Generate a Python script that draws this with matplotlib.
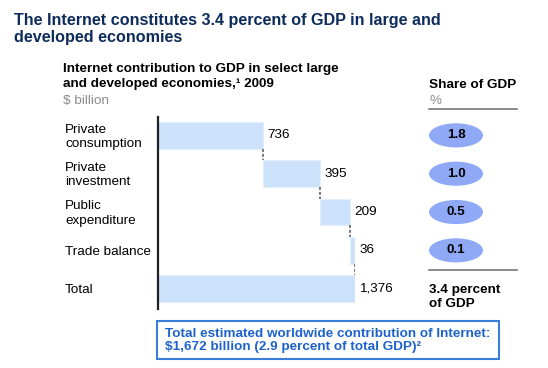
import numpy as np
import matplotlib.pyplot as plt
from matplotlib.patches import Ellipse, Rectangle
from matplotlib.lines import Line2D
from matplotlib.transforms import blended_transform_factory

plt.rcParams['font.family'] = ['Liberation Sans', 'DejaVu Sans']

categories = ['Private\nconsumption', 'Private\ninvestment', 'Public\nexpenditure',
              'Trade balance', 'Total']
values = [736, 395, 209, 36]
total = 1376
value_labels = ['736', '395', '209', '36', '1,376']
shares = ['1.8', '1.0', '0.5', '0.1']

W, H = 548, 368
fig = plt.figure(figsize=(W / 100, H / 100), dpi=100)
FS = 9.7


def fx(x):
    return x / W


def fy(y):
    return 1 - y / H


# waterfall axes
ax = fig.add_axes([fx(158), fy(309), 197 / W, 192 / H])
pos = np.arange(len(categories))
widths = values + [total]
lefts = np.concatenate([[0], np.cumsum(values)[:-1], [0]])
ax.barh(pos, widths, left=lefts, height=0.7, color='#CCE2FB',
        edgecolor='#E2EEFC', linewidth=0.8)

# dashed connectors between steps
for i in range(len(values)):
    x = lefts[i] + widths[i]
    ax.plot([x, x], [i + 0.35, i + 0.65], color='#777777', lw=1.4,
            ls=(0, (1.5, 1)), solid_capstyle='butt')

for i, lab in enumerate(value_labels):
    ax.annotate(lab, (lefts[i] + widths[i], i), xytext=(3, 0),
                textcoords='offset points', ha='left', va='center',
                fontsize=FS, color='black', annotation_clip=False)

ax.set_xlim(0, total)
ax.set_ylim(4.53, -0.48)
for s in ['top', 'right', 'bottom']:
    ax.spines[s].set_visible(False)
ax.spines['left'].set_color('#222222')
ax.spines['left'].set_linewidth(1.6)
ax.set_xticks([])
ax.set_yticks([])

trans = blended_transform_factory(fig.transFigure, ax.transData)
for i, cat in enumerate(categories):
    ax.text(fx(65), i + 0.04, cat, transform=trans, ha='left', va='center',
            fontsize=FS, linespacing=1.25, clip_on=False)

# share of GDP ovals
for i, s in enumerate(shares):
    e = Ellipse((fx(456), i), width=54 / W, height=0.63, transform=trans,
                facecolor='#8FA9F7', edgecolor='none', zorder=1)
    fig.add_artist(e)
    fig.text(fx(456), i, s, transform=trans, ha='center', va='center',
             fontsize=FS, fontweight='bold', zorder=2)

# headings
fig.text(fx(14), fy(29), 'The Internet constitutes 3.4 percent of GDP in large and\n'
         'developed economies', ha='left', va='center', fontsize=11.6,
         fontweight='bold', color='#0D2C5C', linespacing=1.2)
fig.text(fx(63), fy(76.5), 'Internet contribution to GDP in select large\n'
         'and developed economies,\u00b9 2009', ha='left', va='center',
         fontsize=FS, fontweight='bold', linespacing=1.33)
fig.text(fx(63), fy(101), '$ billion', ha='left', va='center', fontsize=FS,
         color='#8C8C8C')
fig.text(fx(429), fy(85), 'Share of GDP', ha='left', va='center', fontsize=FS,
         fontweight='bold')
fig.text(fx(429), fy(101), '%', ha='left', va='center', fontsize=FS,
         color='#8C8C8C')
fig.add_artist(Line2D([fx(429), fx(517)], [fy(109), fy(109)], color='#777777', lw=1.2))
fig.add_artist(Line2D([fx(429), fx(517)], [fy(270), fy(270)], color='#777777', lw=1.2))
fig.text(fx(429), fy(297), '3.4 percent\nof GDP', ha='left', va='center',
         fontsize=FS, fontweight='bold', linespacing=1.25)

# worldwide note box
fig.add_artist(Rectangle((fx(157), fy(359)), (499 - 157) / W, 38 / H,
                         transform=fig.transFigure, fill=False,
                         edgecolor='#3C7DD9', lw=1.5))
fig.text(fx(165), fy(340.5), 'Total estimated worldwide contribution of Internet:\n'
         '$1,672 billion (2.9 percent of total GDP)\u00b2', ha='left', va='center',
         fontsize=FS, fontweight='bold', color='#1E62CC', linespacing=1.17)

fig.savefig('out.png', dpi=100)
